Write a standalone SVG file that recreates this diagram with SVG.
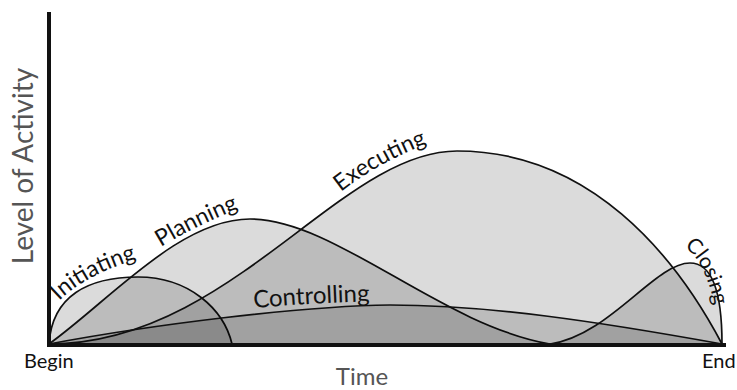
<svg xmlns="http://www.w3.org/2000/svg" width="737" height="390" viewBox="0 0 737 390">
  <style>
    .area { fill: #000; fill-opacity: 0.14; stroke: none; }
    .curve { fill: none; stroke: #111; stroke-width: 1.7; stroke-linejoin: round; }
    .lbl { font-family: Lato, "Open Sans", "Liberation Sans", sans-serif; font-size: 23px; fill: #111; }
    .axis { stroke: #111; stroke-width: 4; fill: none; }
    .axlbl { font-family: Lato, "Open Sans", "Liberation Sans", sans-serif; fill: #555; }
    .end { font-family: Lato, "Open Sans", "Liberation Sans", sans-serif; font-size: 20px; fill: #111; }
  </style>
  <defs>
    <path id="pInit" d="M59,301 Q86,274 146,256"/>
    <path id="pPlan" d="M161,247 Q202,222 256,202"/>
    <path id="pExec" d="M341,192 Q384,158 448,136"/>
    <path id="pCtrl" d="M254,308 Q320,302 390,301"/>
    <path id="pClose" d="M684,247 Q708,262 717,320"/>
  </defs>

  <rect width="737" height="390" fill="#fff"/>

  <g id="initiating">
    <path class="area" d="M49,344 C52,296 88,277 138,277 C190,277 224,310 232,344 Z"/>
    <path class="curve" d="M49,344 C52,296 88,277 138,277 C190,277 224,310 232,344"/>
    <text class="lbl"><textPath href="#pInit">Initiating</textPath></text>
  </g>

  <g id="planning">
    <path class="area" d="M49,344 C110,300 180,219 250,219 C335,219 440,325 550,344 Z"/>
    <path class="curve" d="M49,344 C110,300 180,219 250,219 C335,219 440,325 550,344"/>
    <text class="lbl"><textPath href="#pPlan">Planning</textPath></text>
  </g>

  <g id="executing">
    <path class="area" d="M49,344 C230,344 340,151 457,151 C590,151 675,255 722,344 Z"/>
    <path class="curve" d="M49,344 C230,344 340,151 457,151 C590,151 675,255 722,344"/>
    <text class="lbl"><textPath href="#pExec">Executing</textPath></text>
  </g>

  <g id="controlling">
    <path class="area" d="M49,344 C150,325 300,306 390,305 C490,305 600,322 722,344 Z"/>
    <path class="curve" d="M49,344 C150,325 300,306 390,305 C490,305 600,322 722,344"/>
    <text class="lbl" style="font-size:24px"><textPath href="#pCtrl">Controlling</textPath></text>
  </g>

  <g id="closing">
    <path class="area" d="M550,344 C610,335 655,263 690,263 C715,263 722,300 722,344 Z"/>
    <path class="curve" d="M550,344 C610,335 655,263 690,263 C715,263 722,300 722,344"/>
    <text class="lbl" style="font-size:21px"><textPath href="#pClose">Closing</textPath></text>
  </g>

  <g id="axes">
    <path class="axis" d="M49,12 L49,345 L726,345"/>
    <text class="axlbl" font-size="28" transform="translate(33,166) rotate(-90)" text-anchor="middle">Level of Activity</text>
    <text class="axlbl" font-size="24" x="362" y="385" text-anchor="middle" fill="#444">Time</text>
    <text class="end" x="24" y="368">Begin</text>
    <text class="end" x="702" y="368">End</text>
  </g>
</svg>
